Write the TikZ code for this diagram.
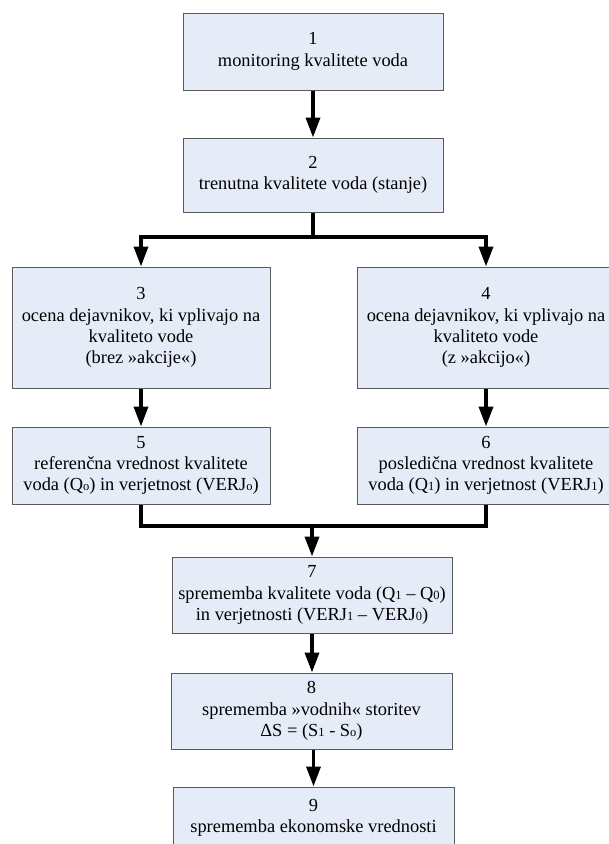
\documentclass[tikz,border=0pt]{standalone}
\usepackage{fontspec}
\setmainfont{Liberation Serif}
\usetikzlibrary{arrows.meta}
\definecolor{boxfill}{RGB}{230,236,247}
\definecolor{boxline}{RGB}{90,90,90}
\newcommand{\sbs}[1]{{\fontsize{12.5}{12.5}\selectfont #1}}
\begin{document}
\begin{tikzpicture}[x=1pt,y=-1pt,
  box/.style={draw=boxline,line width=1pt,fill=boxfill,align=center,inner sep=0pt,
    font=\fontsize{18.4}{21.2}\selectfont},
  conn/.style={line width=3.6pt},
  arr/.style={line width=3.6pt,-{Triangle[length=20pt,width=14pt]}}]
\clip (0,0) rectangle (609,844);
\fill[white] (0,0) rectangle (609,844);
\node[box,minimum width=260pt,minimum height=77pt] (b1) at (313,51.5) {1\\monitoring kvalitete voda};
\node[box,minimum width=260pt,minimum height=74pt] (b2) at (313,175) {2\\trenutna kvalitete voda (stanje)};
\node[box,minimum width=258pt,minimum height=121pt] (b3) at (141,327.5) {3\\ocena dejavnikov, ki vplivajo na\\kvaliteto vode\\(brez »akcije«)};
\node[box,minimum width=258pt,minimum height=121pt] (b4) at (486,327.5) {4\\ocena dejavnikov, ki vplivajo na\\kvaliteto vode\\(z »akcijo«)};
\node[box,minimum width=258pt,minimum height=77pt] (b5) at (141,465.5) {5\\referenčna vrednost kvalitete\\voda (Q\sbs{o}) in verjetnost (VERJ\sbs{o})};
\node[box,minimum width=258pt,minimum height=77pt] (b6) at (486,465.5) {6\\posledična vrednost kvalitete\\voda (Q\sbs{1}) in verjetnost (VERJ\sbs{1})};
\node[box,minimum width=280pt,minimum height=76pt] (b7) at (312,595) {7\\sprememba kvalitete voda (Q\sbs{1} – Q\sbs{0})\\in verjetnosti (VERJ\sbs{1} – VERJ\sbs{0})};
\node[box,minimum width=281pt,minimum height=76pt] (b8) at (311.5,711) {8\\sprememba »vodnih« storitev\\ΔS = (S\sbs{1} - S\sbs{o})};
\node[box,minimum width=281pt,minimum height=61pt] (b9) at (313.5,817.5) {9\\sprememba ekonomske vrednosti};
\coordinate (j1) at (313,237);
\coordinate (j2) at (312,526);
\draw[arr] (b1.south) -- (b2.north);
\draw[conn] (b2.south) -- (j1);
\draw[arr] (j1) -| (b3.north);
\draw[arr] (j1) -| (b4.north);
\draw[arr] (b3.south) -- (b5.north);
\draw[arr] (b4.south) -- (b6.north);
\draw[conn] (b5.south) |- (j2);
\draw[conn] (b6.south) |- (j2);
\draw[arr] (j2) -- (b7.north);
\draw[arr] (b7.south) -- (b7.south |- b8.north);
\draw[arr] (b8.south -| b9.north) -- (b9.north);
\end{tikzpicture}
\end{document}
